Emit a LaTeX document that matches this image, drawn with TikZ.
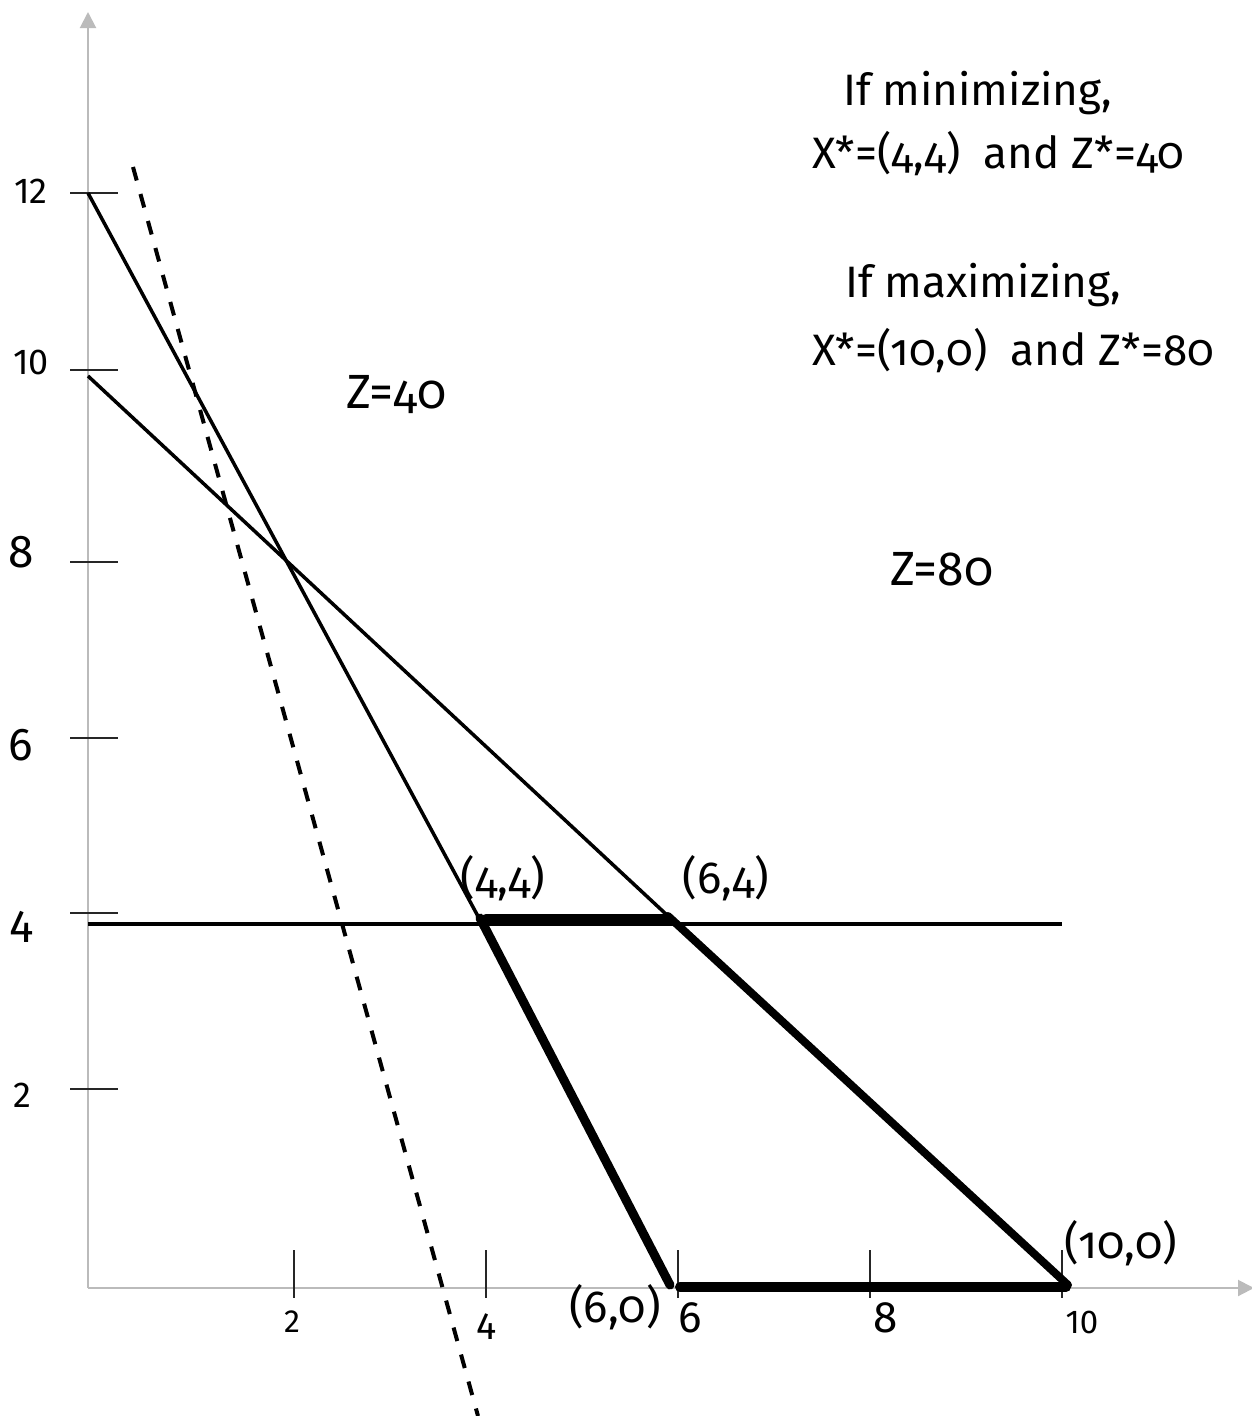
\documentclass[tikz,border=0pt]{standalone}
\usepackage{fontspec}
\setmainfont{Fira Sans}[Numbers=OldStyle]
\newfontfamily\tickfont{Fira Sans}[Numbers=Lining]
\usetikzlibrary{arrows.meta}
\definecolor{axisgray}{HTML}{BBBBBB}
\tikzset{
  axisline/.style={draw=axisgray,line width=2pt,-{Triangle[length=16pt,width=16pt]}},
  tickmark/.style={draw=black!85,line width=1.5pt},
  thinline/.style={draw=black,line width=3.5pt},
  thickline/.style={draw=black,line width=9pt,line cap=round},
  dashline/.style={draw=black,line width=4pt,dash pattern=on 14pt off 14pt},
  bigtext/.style={font=\fontsize{44}{52}\selectfont,inner sep=0pt,anchor=base west},
  ptlabel/.style={font=\fontsize{45}{54}\selectfont,inner sep=0pt},
  ticklabel/.style={font=\tickfont,inner sep=0pt}
}
\begin{document}
\begin{tikzpicture}[x=1pt,y=-1pt]
\useasboundingbox (0,0) rectangle (1252,1416);
% axes
\coordinate (O) at (88,1288);
\coordinate (ytop) at (88,12);
\coordinate (xend) at (1254,1288);
\draw[axisline] (O) -- (ytop);
\draw[axisline] (O) -- (xend);
% y ticks
\foreach \yy/\nm in {193/a,370/b,562/c,738/d,913/e,1089/f}{
  \coordinate (yt\nm l) at (70,\yy);
  \coordinate (yt\nm r) at (118,\yy);
  \draw[tickmark] (yt\nm l) -- (yt\nm r);
}
% x ticks
\foreach \xx/\nm in {294/a,486/b,678/c,870/d,1062/e}{
  \coordinate (xt\nm t) at (\xx,1250);
  \coordinate (xt\nm b) at (\xx,1298);
  \draw[tickmark] (xt\nm t) -- (xt\nm b);
}
% y tick labels
\node[ticklabel,font=\tickfont\fontsize{36}{42}\selectfont] (l12) at (31,191) {12};
\node[ticklabel,font=\tickfont\fontsize{36}{42}\selectfont] (l10) at (31,362) {10};
\node[ticklabel,font=\tickfont\fontsize{46}{54}\selectfont] (l8) at (21,552) {8};
\node[ticklabel,font=\tickfont\fontsize{46}{54}\selectfont] (l6) at (21,745) {6};
\node[ticklabel,font=\tickfont\fontsize{46}{54}\selectfont] (l4) at (22,927) {4};
\node[ticklabel,font=\tickfont\fontsize{36}{42}\selectfont] (l2) at (22,1095) {2};
% x tick labels
\node[ticklabel,font=\tickfont\fontsize{32}{38}\selectfont] (x2) at (292,1322) {2};
\node[ticklabel,font=\tickfont\fontsize{38}{44}\selectfont] (x4) at (487,1327) {4};
\node[ticklabel,font=\tickfont\fontsize{44}{52}\selectfont] (x6) at (690,1318) {6};
\node[ticklabel,font=\tickfont\fontsize{44}{52}\selectfont] (x8) at (886,1318) {8};
\node[ticklabel,font=\tickfont\fontsize{33}{40}\selectfont] (x10) at (1082,1322) {10};
% constraint lines
\coordinate (A0) at (88,193);
\coordinate (A1) at (480,920);
\coordinate (A1t) at (480,918);
\coordinate (A2) at (670,1285);
\coordinate (B0) at (88,376);
\coordinate (B1) at (668,916);
\coordinate (B2) at (1068,1285);
\coordinate (H0) at (88,924);
\coordinate (H1) at (1062,924);
\coordinate (T0) at (486,918);
\coordinate (T1) at (668,918);
\coordinate (G0) at (680,1287);
\coordinate (G1) at (1066,1287);
\coordinate (D0) at (133,167);
\coordinate (D1) at (478,1416);
\draw[thinline] (A0) -- (A1);
\draw[thinline] (B0) -- (B1);
\draw[thinline] (H0) -- (H1);
\draw[thickline] (A1t) -- (A2);
\draw[thickline,line width=8pt] (B1) -- (B2);
\draw[thickline] (T0) -- (T1);
\draw[thickline,line width=10pt] (G0) -- (G1);
\draw[dashline] (D0) -- (D1);
% point labels
\node[ptlabel] (p44) at (503,878) {(4,4)};
\node[ptlabel] (p64) at (726,878) {(6,4)};
\node[ptlabel] (p60) at (615,1307) {(6,0)};
\node[ptlabel] (p100) at (1121,1243) {(10,0)};
% objective labels
\node[bigtext,font=\fontsize{48}{56}\selectfont] (z40) at (346,408) {Z=40};
\node[bigtext,font=\fontsize{48}{56}\selectfont] (z80) at (890,585) {Z=80};
% result text
\node[bigtext] (t1) at (843,105) {If minimizing,};
\node[bigtext] (t2) at (812,168) {X*=(4,4)\ \ and Z*=40};
\node[bigtext] (t3) at (845,297) {If maximizing,};
\node[bigtext] (t4) at (812,365) {X*=(10,0)\ \ and Z*=80};
\end{tikzpicture}
\end{document}
